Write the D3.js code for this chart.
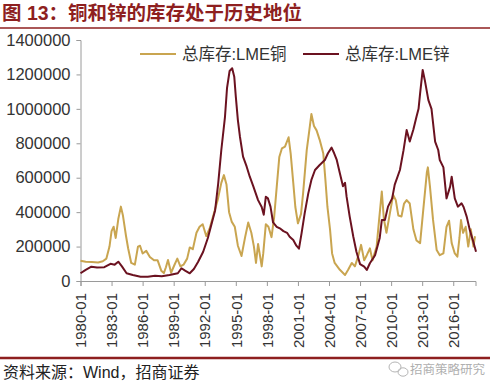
<!DOCTYPE html>
<html lang="zh">
<head>
  <meta charset="UTF-8">
  <title>铜和锌的库存处于历史地位</title>
  <script src="https://d3js.org/d3.v7.min.js"></script>
  <style>
    body { margin: 0; background: #fff; }
    text { font-family: "Liberation Sans", Arial, "Noto Sans CJK SC", sans-serif; }
  </style>
</head>
<body>
  <svg id="chart" width="500" height="389"></svg>
  <script>
    // 时间（年份小数）与库存（千吨）
    const copperTime = [1980.0, 1980.5, 1981.1, 1981.7, 1982.15, 1982.5, 1982.8, 1983.0, 1983.2, 1983.4, 1983.65, 1983.9,
      1984.1, 1984.4, 1984.6, 1984.9, 1985.25, 1985.55, 1985.75, 1986.0, 1986.35, 1986.7, 1987.1, 1987.45, 1987.8,
      1988.05, 1988.25, 1988.45, 1988.75, 1989.05, 1989.35, 1989.65, 1989.95, 1990.3, 1990.55, 1990.85, 1991.2,
      1991.5, 1991.8, 1992.15, 1992.5, 1992.8, 1993.25, 1993.6, 1993.85, 1994.1, 1994.35, 1994.6, 1994.9, 1995.2,
      1995.55, 1995.9, 1996.2, 1996.5, 1996.75, 1996.95, 1997.15, 1997.3, 1997.5, 1997.65, 1997.9, 1998.15, 1998.45,
      1998.7, 1998.95, 1999.2, 1999.45, 1999.75, 2000.1, 2000.3, 2000.55, 2000.75, 2001.0, 2001.3, 2001.5, 2001.85,
      2002.1, 2002.3, 2002.55, 2002.8, 2003.1, 2003.45, 2003.65, 2003.85, 2004.1, 2004.3, 2004.55, 2005.05, 2005.55,
      2005.85, 2006.2, 2006.5, 2006.8, 2007.1, 2007.4, 2007.65, 2007.95, 2008.2, 2008.6, 2008.8, 2009.1, 2009.3,
      2009.55, 2009.9, 2010.2, 2010.45, 2010.7, 2011.0, 2011.25, 2011.5, 2011.8, 2012.15, 2012.45, 2012.8, 2013.1,
      2013.45, 2013.55, 2013.75, 2014.05, 2014.4, 2014.7, 2015.05, 2015.35, 2015.6, 2015.85, 2016.15, 2016.4, 2016.6,
      2016.75, 2016.95, 2017.2, 2017.45, 2017.7, 2017.95, 2018.1];
    const copperStock = [118, 112, 110, 108, 115, 130, 200, 290, 315, 250, 360, 432,
      380, 260, 190, 105, 95, 200, 205, 160, 175, 140, 120, 120, 60,
      46, 80, 122, 48, 90, 130, 85, 95, 130, 195, 185, 280,
      315, 330, 260, 310, 375, 470, 570, 615, 560, 400, 345, 315, 205,
      145, 255, 340, 280, 200, 105, 215, 160, 85, 160, 330, 315, 255,
      370, 545, 720, 770, 780, 835, 740, 570, 430, 335, 390, 510, 760,
      875, 970, 900, 875, 820, 740, 590, 430, 300, 160, 105, 65, 35,
      65, 105, 85, 140, 210, 120, 150, 190, 120, 200, 330, 520, 360,
      280, 400, 500, 470, 380, 375, 450, 470, 450, 300, 235, 220, 410,
      630, 660, 550, 355, 180, 150, 160, 315, 350, 220, 160, 141, 250,
      354, 280, 315, 200, 300, 200, 260];

    const zincTime = [1980.0, 1980.5, 1981.05, 1981.6, 1982.3, 1982.9, 1983.3, 1983.65, 1984.0, 1984.45, 1985.05, 1985.8,
      1986.5, 1987.2, 1987.85, 1988.6, 1989.4, 1989.75, 1990.1, 1990.55, 1990.95, 1991.35, 1991.85, 1992.3, 1992.65,
      1993.0, 1993.3, 1993.6, 1993.95, 1994.15, 1994.4, 1994.65, 1994.85, 1995.0, 1995.2, 1995.4, 1995.7, 1996.05,
      1996.35, 1996.7, 1997.15, 1997.5, 1997.7, 1997.9, 1998.1, 1998.35, 1998.6, 1998.95, 1999.25, 1999.6, 1999.95,
      2000.2, 2000.55, 2000.85, 2001.1, 2001.35, 2001.65, 2002.0, 2002.3, 2002.65, 2003.1, 2003.6, 2003.9, 2004.25,
      2004.5, 2004.75, 2005.05, 2005.35, 2005.55, 2005.7, 2006.0, 2006.35, 2006.65, 2007.0, 2007.4, 2007.65, 2007.95,
      2008.45, 2008.9, 2009.1, 2009.4, 2009.7, 2010.1, 2010.35, 2010.85, 2011.2, 2011.5, 2011.8, 2012.15, 2012.45,
      2012.65, 2012.8, 2013.05, 2013.25, 2013.6, 2013.9, 2014.25, 2014.55, 2014.7, 2015.05, 2015.35, 2015.7, 2015.85,
      2016.15, 2016.45, 2016.8, 2017.0, 2017.3, 2017.6, 2017.95, 2018.2];
    const zincStock = [45, 65, 83, 78, 80, 100, 95, 112, 85, 45, 35, 25,
      25, 30, 28, 35, 45, 74, 60, 45, 70, 110, 170, 250, 330,
      410, 567, 761, 950, 1120, 1220, 1236, 1187, 1071, 935, 838, 722, 664,
      606, 548, 470, 430, 385, 490, 480, 432, 340, 315, 306, 290, 280,
      257, 238, 205, 188, 277, 393, 509, 587, 645, 674, 703, 742, 775,
      742, 703, 626, 550, 570, 490, 374, 257, 170, 98, 83, 64, 103,
      150, 250, 354, 354, 432, 480, 560, 645, 760, 877, 810, 880, 954,
      1000, 1090, 1226, 1168, 1051, 1000, 810, 761, 703, 660, 480, 548, 606,
      480, 432, 451, 430, 374, 296, 225, 170];

    const yTicks = [0, 200000, 400000, 600000, 800000, 1000000, 1200000, 1400000];
    const xTickYears = [1980, 1983, 1986, 1989, 1992, 1995, 1998, 2001, 2004, 2007, 2010, 2013, 2016];

    const series = [
      { name: '总库存:LME铜', color: '#c9a550', time: copperTime, stock: copperStock },
      { name: '总库存:LME锌', color: '#6b1220', time: zincTime, stock: zincStock }
    ];

    const svg = d3.select('#chart');
    const red = '#8e1f1f';

    const x = d3.scaleLinear().domain([1980, 2018.15]).range([80.5, 475.5]);
    const y = d3.scaleLinear().domain([0, 1400000]).range([281, 40]);

    // 标题
    svg.append('text')
      .attr('x', 2).attr('y', 20)
      .attr('fill', red)
      .attr('font-size', 19.5).attr('font-weight', 'bold')
      .text('图 13：铜和锌的库存处于历史地位');
    svg.append('line')
      .attr('x1', 0).attr('x2', 490).attr('y1', 28).attr('y2', 28)
      .attr('stroke', red).attr('stroke-width', 1.5);

    // 坐标轴
    const axisY = d3.axisLeft(y).tickValues(yTicks).tickSize(4).tickPadding(6).tickFormat(d3.format('d'));
    const gy = svg.append('g').attr('transform', 'translate(80.5,0)').call(axisY);
    gy.selectAll('text').attr('font-size', 16.5).attr('fill', '#333');

    const axisX = d3.axisBottom(x).tickValues(xTickYears).tickSize(5).tickFormat(d => d + '-01');
    const gx = svg.append('g').attr('transform', 'translate(0,281)').call(axisX);
    gx.selectAll('text')
      .attr('font-size', 15).attr('fill', '#333')
      .attr('transform', 'rotate(-90)')
      .attr('text-anchor', 'end')
      .attr('x', -12).attr('y', 0).attr('dy', '0.35em');

    svg.selectAll('.domain, .tick line').attr('stroke', '#9a9a9a');

    // 折线
    const line = d3.line()
      .x(d => x(d[0]))
      .y(d => y(d[1] * 1000));

    series.forEach(s => {
      svg.append('path')
        .datum(d3.zip(s.time, s.stock))
        .attr('fill', 'none')
        .attr('stroke', s.color)
        .attr('stroke-width', 2)
        .attr('stroke-linejoin', 'round')
        .attr('d', line);
    });

    // 图例
    const legendX = [140, 303];
    series.forEach((s, i) => {
      svg.append('line')
        .attr('x1', legendX[i]).attr('x2', legendX[i] + 36)
        .attr('y1', 54).attr('y2', 54)
        .attr('stroke', s.color).attr('stroke-width', 2);
      svg.append('text')
        .attr('x', legendX[i] + 42).attr('y', 59.5)
        .attr('font-size', 16.5).attr('fill', '#333')
        .text(s.name);
    });

    // 底部
    svg.append('line')
      .attr('x1', 0).attr('x2', 490).attr('y1', 358).attr('y2', 358)
      .attr('stroke', red).attr('stroke-width', 2.5);
    svg.append('text')
      .attr('x', 3).attr('y', 378)
      .attr('font-size', 16).attr('fill', '#222')
      .text('资料来源：Wind，招商证券');

    const wm = svg.append('g').attr('fill', 'none').attr('stroke', '#b5b5b5').attr('stroke-width', 1);
    wm.append('ellipse').attr('cx', 395).attr('cy', 367).attr('rx', 6).attr('ry', 5);
    wm.append('ellipse').attr('cx', 403).attr('cy', 372).attr('rx', 5).attr('ry', 4.2);
    svg.append('text')
      .attr('x', 410).attr('y', 374)
      .attr('font-size', 12.5).attr('fill', '#b0b0b0')
      .text('招商策略研究');
  </script>
</body>
</html>
